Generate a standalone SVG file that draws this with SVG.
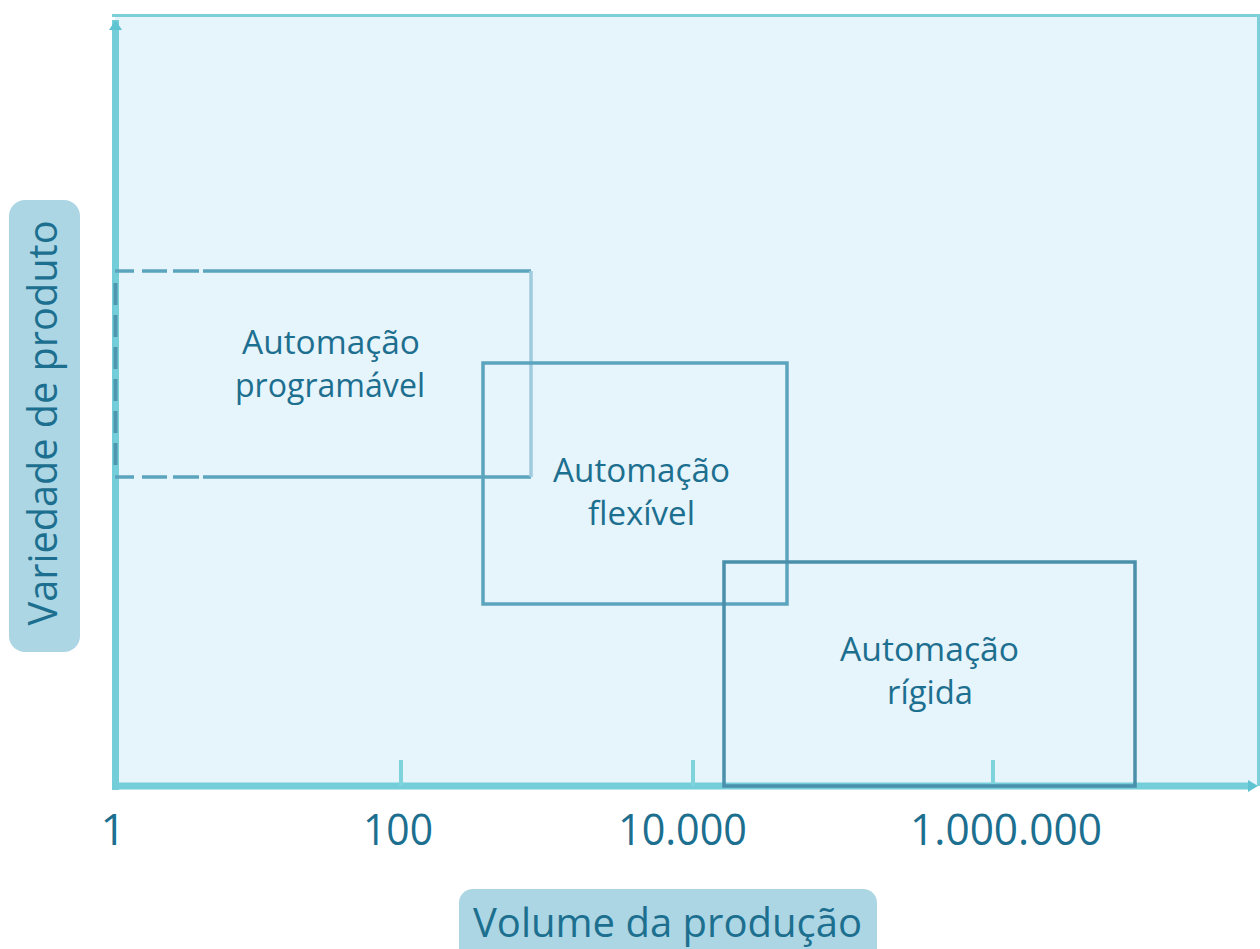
<svg xmlns="http://www.w3.org/2000/svg" width="1260" height="949" viewBox="0 0 1260 949">
  <style>
    .txt { font-family: "Open Sans", "Noto Sans", "DejaVu Sans", sans-serif; fill: #1d6f8f; }
    .box-label { font-size: 33px; text-anchor: middle; }
    .tick-label { font-size: 44px; text-anchor: middle; }
    .axis-title { font-size: 40px; text-anchor: middle; }
    .pill { fill: #acd6e4; }
    .axis { stroke: #74ced9; fill: none; }
    .tick { stroke: #7fd3dd; stroke-width: 4; }
    .frame { stroke: #7dd0da; stroke-width: 3; fill: none; }
    .zone { fill: none; stroke: #5ba4be; stroke-width: 3.5; }
  </style>

  <rect width="1260" height="949" fill="#ffffff"/>

  <!-- plot area -->
  <g id="plot-area">
    <rect x="115" y="15" width="1142" height="771" fill="#e6f4fb"/>
    <path class="frame" d="M112 15.5 H1258.5 V786"/>
  </g>

  <!-- axes and ticks -->
  <g id="connectors">
    <line class="axis" x1="115.5" y1="20" x2="115.5" y2="790" stroke-width="7"/>
    <polygon points="109,30 115.5,20 122,30" fill="#5fc4d1"/>
    <line class="axis" x1="112" y1="786" x2="1250" y2="786" stroke-width="7"/>
    <polygon points="1248,780 1258,786 1248,792" fill="#5fc4d1"/>
    <line class="tick" x1="401" y1="760" x2="401" y2="786"/>
    <line class="tick" x1="693" y1="760" x2="693" y2="786"/>
    <line class="tick" x1="993" y1="760" x2="993" y2="786"/>
  </g>

  <!-- Automação programável -->
  <g id="node-programavel">
    <path class="zone" d="M115 271 H203" stroke-dasharray="19 8 25 6 26 5"/>
    <path class="zone" d="M115 477 H203" stroke-dasharray="19 8 25 6 26 5"/>
    <path class="zone" d="M203 271 H531"/>
    <path class="zone" d="M203 477 H531"/>
    <path d="M531 271 V477" fill="none" stroke="#9fcbdc" stroke-width="3.5"/>
    <path d="M115.5 283 V470" fill="none" stroke="#4f97b0" stroke-width="4" stroke-dasharray="22 10"/>
    <text class="txt box-label" x="331" y="354" textLength="178" lengthAdjust="spacingAndGlyphs">Automação</text>
    <text class="txt box-label" x="330" y="397" textLength="190" lengthAdjust="spacingAndGlyphs">programável</text>
  </g>

  <!-- Automação flexível -->
  <g id="node-flexivel">
    <rect class="zone" x="483" y="363" width="304" height="241"/>
    <text class="txt box-label" x="641.5" y="482" textLength="177" lengthAdjust="spacingAndGlyphs">Automação</text>
    <text class="txt box-label" x="641.5" y="525" textLength="107" lengthAdjust="spacingAndGlyphs">flexível</text>
  </g>

  <!-- Automação rígida -->
  <g id="node-rigida">
    <path d="M724 786 V562 H1135 V786 Z" fill="none" stroke="#4a8fab" stroke-width="3.5"/>
    <text class="txt box-label" x="929.5" y="661" textLength="179" lengthAdjust="spacingAndGlyphs">Automação</text>
    <text class="txt box-label" x="930" y="704" textLength="86" lengthAdjust="spacingAndGlyphs">rígida</text>
  </g>

  <!-- scale labels -->
  <g id="scale-labels">
    <text class="txt tick-label" x="113" y="845">1</text>
    <text class="txt tick-label" x="398" y="845" textLength="70" lengthAdjust="spacingAndGlyphs">100</text>
    <text class="txt tick-label" x="682.5" y="845" textLength="129" lengthAdjust="spacingAndGlyphs">10.000</text>
    <text class="txt tick-label" x="1006" y="845" textLength="192" lengthAdjust="spacingAndGlyphs">1.000.000</text>
  </g>

  <!-- axis titles -->
  <g id="y-axis-title">
    <rect class="pill" x="9" y="200" width="71" height="452" rx="16"/>
    <text class="txt axis-title" x="0" y="0" transform="translate(57 423) rotate(-90)" font-size="44" textLength="405" lengthAdjust="spacingAndGlyphs">Variedade de produto</text>
  </g>
  <g id="x-axis-title">
    <rect class="pill" x="459" y="889" width="418" height="80" rx="14"/>
    <text class="txt axis-title" x="667.5" y="937" textLength="389" lengthAdjust="spacingAndGlyphs">Volume da produção</text>
  </g>
</svg>
